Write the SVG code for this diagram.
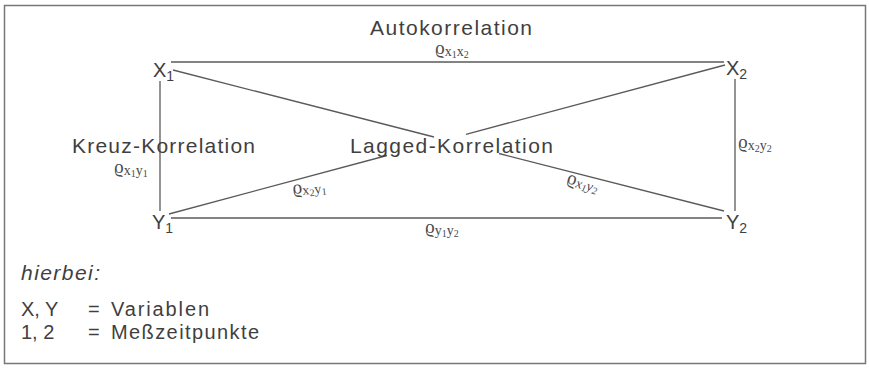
<svg xmlns="http://www.w3.org/2000/svg" width="869" height="368" viewBox="0 0 869 368">
<style>
.t{font-family:"Liberation Sans",Arial,sans-serif;fill:#3f3f3f}
.h{font-size:21px}
.n{font-size:20px}
.lg{font-size:20px}
.r{font-family:"Liberation Serif","DejaVu Serif",serif;fill:#4a4a4a;font-size:19px}
.s{font-size:14px}
.ss{font-size:10px}
.ns{font-size:14px}
.c{stroke:#5a5a5a;stroke-width:1.3;fill:none}
</style>
<rect x="4.5" y="5.5" width="861" height="358" fill="#fff" stroke="#777" stroke-width="1.5"/>
<g id="connectors" class="c">
<line x1="171" y1="62" x2="724" y2="62"/>
<line x1="160" y1="81" x2="160" y2="211"/>
<line x1="735" y1="79" x2="735" y2="211"/>
<line x1="171" y1="218" x2="722" y2="218"/>
<line x1="173" y1="70" x2="434" y2="137"/>
<line x1="499" y1="153.5" x2="724" y2="211"/>
<line x1="725" y1="65" x2="466" y2="134.3"/>
<line x1="387" y1="155.5" x2="169" y2="214"/>
</g>
<g id="X1"><text class="t n" x="153" y="77">X<tspan class="ns" dy="4">1</tspan></text></g>
<g id="X2"><text class="t n" x="726" y="75">X<tspan class="ns" dy="4">2</tspan></text></g>
<g id="Y1"><text class="t n" x="152" y="229">Y<tspan class="ns" dy="4">1</tspan></text></g>
<g id="Y2"><text class="t n" x="726" y="229">Y<tspan class="ns" dy="4">2</tspan></text></g>
<g id="labels">
<text class="t h" x="370" y="35" textLength="162" lengthAdjust="spacing">Autokorrelation</text>
<text class="t h" x="72" y="153" textLength="183" lengthAdjust="spacing">Kreuz-Korrelation</text>
<text class="t h" x="350" y="153" textLength="203" lengthAdjust="spacing">Lagged-Korrelation</text>
<text class="r" x="435" y="54" font-size="18">ϱ<tspan class="s" dy="2">x</tspan><tspan class="ss" dy="2">1</tspan><tspan class="s" dy="-2">x</tspan><tspan class="ss" dy="2">2</tspan></text>
<text class="r" x="114" y="173">ϱ<tspan class="s" dy="2">x</tspan><tspan class="ss" dy="2">1</tspan><tspan class="s" dy="-2">y</tspan><tspan class="ss" dy="2">1</tspan></text>
<text class="r" x="738" y="148">ϱ<tspan class="s" dy="2">x</tspan><tspan class="ss" dy="2">2</tspan><tspan class="s" dy="-2">y</tspan><tspan class="ss" dy="2">2</tspan></text>
<text class="r" x="425" y="233">ϱ<tspan class="s" dy="2">y</tspan><tspan class="ss" dy="2">1</tspan><tspan class="s" dy="-2">y</tspan><tspan class="ss" dy="2">2</tspan></text>
<text class="r" x="293" y="194" transform="rotate(-6 293 194)">ϱ<tspan class="s" dy="2">x</tspan><tspan class="ss" dy="2">2</tspan><tspan class="s" dy="-2">y</tspan><tspan class="ss" dy="2">1</tspan></text>
<text class="r" x="566" y="183" transform="rotate(14 566 183)">ϱ<tspan class="s" dy="2" font-style="italic">x</tspan><tspan class="ss" dy="2" font-style="italic">1</tspan><tspan class="s" dy="-2" font-style="italic">y</tspan><tspan class="ss" dy="2" font-style="italic">2</tspan></text>
<text class="t" x="21" y="280" font-size="21" font-style="italic" textLength="79" lengthAdjust="spacing">hierbei:</text>
<text class="t lg" x="21" y="316">X, Y</text>
<text class="t lg" x="88" y="316">=</text>
<text class="t lg" x="111" y="316" textLength="98" lengthAdjust="spacing">Variablen</text>
<text class="t lg" x="21" y="339">1, 2</text>
<text class="t lg" x="88" y="339">=</text>
<text class="t lg" x="111" y="339" textLength="148" lengthAdjust="spacing">Meßzeitpunkte</text>
</g>
</svg>
